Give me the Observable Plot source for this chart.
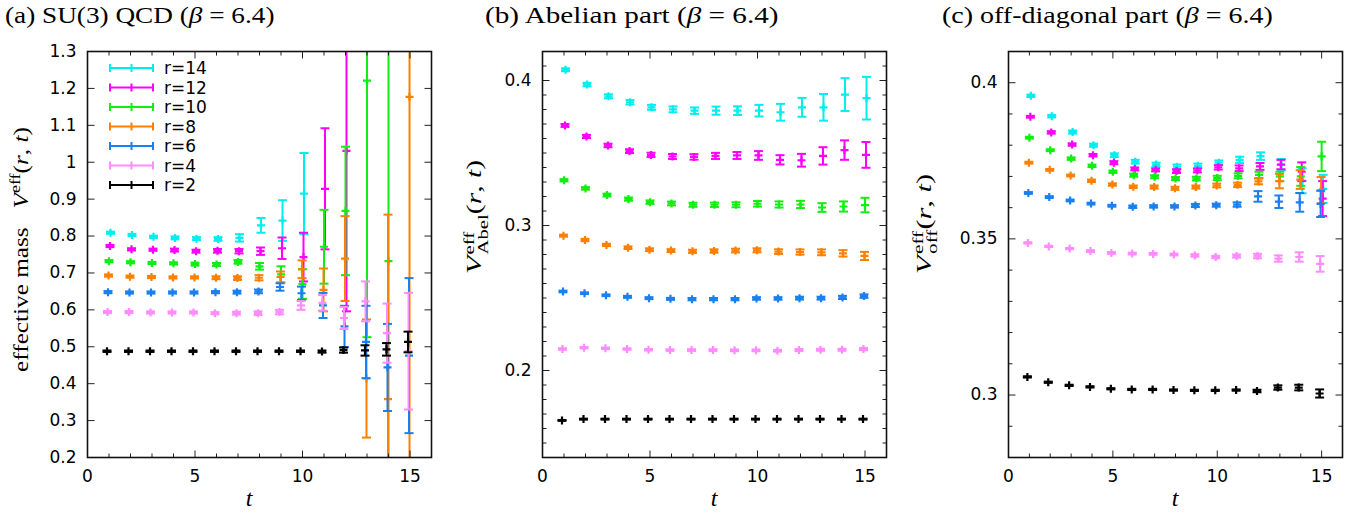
<!DOCTYPE html>
<html><head><meta charset="utf-8">
<script src="https://cdn.jsdelivr.net/npm/d3@7"></script>
<script src="https://cdn.jsdelivr.net/npm/@observablehq/plot@0.6"></script>
<style>
body{margin:0;background:#fff;}
#root{position:relative;width:1358px;height:514px;overflow:hidden;background:#fff;}
#root svg{position:absolute;top:0;overflow:visible;}
.title{position:absolute;font-family:"Liberation Serif",serif;font-size:23px;white-space:nowrap;color:#000;transform-origin:0 50%;line-height:1;}
.ylab{position:absolute;font-family:"Liberation Serif",serif;font-size:21px;white-space:nowrap;color:#000;line-height:1;}
.ylab.small{font-size:20px;}
.xlab{position:absolute;font-family:"Liberation Serif",serif;font-style:italic;font-size:24px;transform:translate(-50%,-50%);color:#000;}
.ss{display:inline-flex;flex-direction:column;vertical-align:middle;font-size:14px;line-height:1.0;margin-left:1px;}
.sup{position:relative;top:-8px;font-size:15px;}
</style></head><body><div id="root"></div><script>
// ---------- data ----------
const tValues = [1,2,3,4,5,6,7,8,9,10,11,12,13,14,15];
const radii = [14,12,10,8,6,4,2];
const seriesLabels = ["r=14","r=12","r=10","r=8","r=6","r=4","r=2"];

// (a) SU(3) QCD
const qcd_r14 = [0.809,0.803,0.798,0.795,0.793,0.792,0.795,0.829,0.842,0.915,null,null,null,null,null];
const qcd_r14_err = [0.003,0.003,0.003,0.004,0.004,0.005,0.010,0.020,0.055,0.110,null,null,null,null,null];
const qcd_r12 = [0.773,0.764,0.763,0.762,0.759,0.760,0.759,0.759,0.767,0.743,0.928,1.031,null,null,null];
const qcd_r12_err = [0.003,0.003,0.003,0.004,0.004,0.005,0.006,0.010,0.029,0.066,0.164,0.435,null,null,null];
const qcd_r10 = [0.732,0.729,0.727,0.726,0.724,0.723,0.730,0.718,0.696,0.670,0.771,0.868,1.221,0.732,null];
const qcd_r10_err = [0.003,0.003,0.003,0.003,0.004,0.004,0.005,0.009,0.022,0.040,0.100,0.174,0.695,0.900,null];
const qcd_r8 = [0.693,0.690,0.689,0.688,0.688,0.687,0.686,0.687,0.689,0.710,0.654,0.739,0.414,0.358,1.177];
const qcd_r8_err = [0.003,0.003,0.003,0.003,0.003,0.004,0.005,0.007,0.015,0.024,0.058,0.115,0.160,0.500,1.000];
const qcd_r6 = [0.648,0.647,0.647,0.647,0.647,0.648,0.648,0.650,0.662,0.645,0.612,0.555,0.513,0.444,0.476];
const qcd_r6_err = [0.003,0.003,0.003,0.003,0.003,0.003,0.004,0.005,0.010,0.018,0.034,0.056,0.098,0.118,0.210];
const qcd_r4 = [0.594,0.594,0.593,0.593,0.593,0.591,0.591,0.591,0.594,0.612,0.619,0.578,0.623,0.537,0.488];
const qcd_r4_err = [0.003,0.003,0.003,0.003,0.003,0.003,0.004,0.005,0.006,0.012,0.021,0.030,0.054,0.080,0.158];
const qcd_r2 = [0.488,0.488,0.488,0.488,0.488,0.488,0.488,0.488,0.488,0.488,0.487,0.491,0.490,0.493,0.513];
const qcd_r2_err = [0.002,0.002,0.002,0.002,0.002,0.002,0.002,0.002,0.002,0.002,0.003,0.007,0.014,0.017,0.028];

// (b) Abelian part
const abel_r14 = [0.4074,0.3972,0.3891,0.3850,0.3815,0.3801,0.3792,0.3792,0.3792,0.3792,0.3781,0.3815,0.3815,0.3903,0.3878];
const abel_r14_err = [0.0010,0.0012,0.0014,0.0015,0.0017,0.0020,0.0022,0.0028,0.0030,0.0040,0.0058,0.0065,0.0092,0.0113,0.0147];
const abel_r12 = [0.3690,0.3614,0.3552,0.3513,0.3487,0.3476,0.3473,0.3480,0.3483,0.3483,0.3453,0.3450,0.3480,0.3520,0.3487];
const abel_r12_err = [0.0010,0.0011,0.0012,0.0013,0.0015,0.0017,0.0019,0.0021,0.0024,0.0030,0.0032,0.0044,0.0060,0.0067,0.0089];
const abel_r10 = [0.3312,0.3256,0.3210,0.3182,0.3161,0.3152,0.3143,0.3143,0.3143,0.3150,0.3145,0.3145,0.3124,0.3131,0.3141];
const abel_r10_err = [0.0008,0.0009,0.0010,0.0011,0.0012,0.0013,0.0014,0.0015,0.0017,0.0019,0.0021,0.0025,0.0030,0.0035,0.0050];
const abel_r8 = [0.2930,0.2900,0.2866,0.2847,0.2833,0.2827,0.2822,0.2824,0.2827,0.2829,0.2820,0.2817,0.2815,0.2808,0.2790];
const abel_r8_err = [0.0007,0.0008,0.0008,0.0009,0.0010,0.0010,0.0011,0.0012,0.0013,0.0014,0.0016,0.0018,0.0020,0.0022,0.0028];
const abel_r6 = [0.2545,0.2533,0.2519,0.2508,0.2499,0.2494,0.2492,0.2492,0.2492,0.2497,0.2497,0.2499,0.2499,0.2504,0.2513];
const abel_r6_err = [0.0006,0.0006,0.0006,0.0007,0.0007,0.0007,0.0008,0.0008,0.0008,0.0009,0.0009,0.0010,0.0010,0.0011,0.0012];
const abel_r4 = [0.2148,0.2157,0.2153,0.2148,0.2143,0.2141,0.2141,0.2141,0.2139,0.2139,0.2136,0.2141,0.2143,0.2143,0.2148];
const abel_r4_err = [0.0005,0.0005,0.0005,0.0005,0.0005,0.0005,0.0006,0.0006,0.0006,0.0006,0.0006,0.0007,0.0007,0.0007,0.0008];
const abel_r2 = [0.1656,0.1665,0.1665,0.1665,0.1665,0.1665,0.1665,0.1665,0.1665,0.1665,0.1665,0.1665,0.1665,0.1665,0.1665];
const abel_r2_err = [0.0003,0.0003,0.0003,0.0003,0.0003,0.0003,0.0003,0.0003,0.0003,0.0003,0.0003,0.0003,0.0003,0.0003,0.0003];

// (c) off-diagonal part
const off_r14 = [0.3958,0.3893,0.3842,0.3800,0.3768,0.3747,0.3738,0.3731,0.3734,0.3744,0.3753,0.3765,0.3738,0.3686,0.3660];
const off_r14_err = [0.0004,0.0004,0.0005,0.0005,0.0006,0.0006,0.0006,0.0007,0.0007,0.0007,0.0010,0.0012,0.0018,0.0040,0.0045];
const off_r12 = [0.3891,0.3841,0.3802,0.3768,0.3744,0.3724,0.3721,0.3717,0.3719,0.3729,0.3726,0.3732,0.3738,0.3715,0.3629];
const off_r12_err = [0.0003,0.0004,0.0004,0.0004,0.0005,0.0005,0.0005,0.0006,0.0006,0.0007,0.0009,0.0011,0.0015,0.0030,0.0056];
const off_r10 = [0.3824,0.3784,0.3757,0.3734,0.3715,0.3704,0.3699,0.3693,0.3693,0.3695,0.3702,0.3705,0.3700,0.3700,0.3764];
const off_r10_err = [0.0003,0.0003,0.0004,0.0004,0.0004,0.0005,0.0005,0.0005,0.0006,0.0007,0.0008,0.0010,0.0015,0.0030,0.0047];
const off_r8 = [0.3744,0.3721,0.3703,0.3686,0.3674,0.3667,0.3666,0.3662,0.3666,0.3671,0.3673,0.3684,0.3685,0.3690,0.3656];
const off_r8_err = [0.0003,0.0003,0.0003,0.0004,0.0004,0.0004,0.0005,0.0005,0.0005,0.0006,0.0007,0.0009,0.0023,0.0030,0.0042];
const off_r6 = [0.3647,0.3634,0.3623,0.3613,0.3606,0.3603,0.3604,0.3604,0.3607,0.3608,0.3610,0.3636,0.3619,0.3617,0.3612];
const off_r6_err = [0.0003,0.0003,0.0003,0.0003,0.0003,0.0004,0.0004,0.0004,0.0005,0.0005,0.0007,0.0017,0.0020,0.0030,0.0042];
const off_r4 = [0.3487,0.3476,0.3469,0.3461,0.3455,0.3453,0.3452,0.3450,0.3447,0.3442,0.3445,0.3445,0.3437,0.3442,0.3420];
const off_r4_err = [0.0002,0.0002,0.0002,0.0003,0.0003,0.0003,0.0003,0.0003,0.0004,0.0004,0.0005,0.0007,0.0010,0.0015,0.0025];
const off_r2 = [0.3058,0.3041,0.3031,0.3026,0.3020,0.3018,0.3018,0.3016,0.3015,0.3015,0.3016,0.3013,0.3024,0.3024,0.3005];
const off_r2_err = [0.0002,0.0002,0.0002,0.0002,0.0002,0.0002,0.0002,0.0002,0.0002,0.0002,0.0002,0.0004,0.0007,0.0009,0.0013];

// axis ticks
const xTickLabels = [0,5,10,15];
const xMinorTicks = [1,2,3,4,6,7,8,9,11,12,13,14];
const qcdYTicks = [0.2,0.3,0.4,0.5,0.6,0.7,0.8,0.9,1,1.1,1.2,1.3];
const abelYTicks = [0.2,0.3,0.4];
const abelYMinor = [0.15,0.16,0.17,0.18,0.19,0.21,0.22,0.23,0.24,0.25,0.26,0.27,0.28,0.29,0.31,0.32,0.33,0.34,0.35,0.36,0.37,0.38,0.39,0.41];
const offYTicks = [0.3,0.35,0.4];
const offYMinor = [0.29,0.31,0.32,0.33,0.34,0.36,0.37,0.38,0.39];

// ---------- styles ----------
const colorOf = {14:"#00eeee",12:"#ff00ff",10:"#11ee11",8:"#ff8000",6:"#1a80f0",4:"#ff8cff",2:"#000000"};
const dxOf = {14:1.5,12:1,10:0,8:-0.5,6:-1,4:-1.5,2:-2};
const sansFont = "'DejaVu Sans', Verdana, sans-serif";

// custom symbols
const sym = (f) => ({draw(ctx, size){ f(ctx, Math.sqrt(size/Math.PI)); }});
const plusSym = sym((c,r)=>{c.moveTo(-r,0);c.lineTo(r,0);c.moveTo(0,-r);c.lineTo(0,r);});
const hbarSym = sym((c,r)=>{c.moveTo(-r,0);c.lineTo(r,0);});
const tickRight = sym((c,r)=>{c.moveTo(0,0);c.lineTo(r,0);});
const tickLeft = sym((c,r)=>{c.moveTo(0,0);c.lineTo(-r,0);});
const tickUp = sym((c,r)=>{c.moveTo(0,0);c.lineTo(0,-r);});
const tickDown = sym((c,r)=>{c.moveTo(0,0);c.lineTo(0,r);});

function rows(vals, errs, r) {
  return tValues.map((t,i)=> vals[i]==null ? null : {t, r, v: vals[i], lo: vals[i]-errs[i], hi: vals[i]+errs[i]}).filter(Boolean);
}

function panel(opts) {
  const {series, xDomain, yDomain, yTicks, yMinor, width, ml, mr, clip} = opts;
  const marks = [];
  for (const s of series) {
    const c = colorOf[s.r], dx = dxOf[s.r];
    marks.push(Plot.ruleX(s.rows, {x:"t", y1:"lo", y2:"hi", stroke:c, strokeWidth:2, dx, clip}));
    marks.push(Plot.dot(s.rows, {x:"t", y:"lo", symbol:hbarSym, r:4.5, stroke:c, fill:"none", strokeWidth:2, dx, clip}));
    marks.push(Plot.dot(s.rows, {x:"t", y:"hi", symbol:hbarSym, r:4.5, stroke:c, fill:"none", strokeWidth:2, dx, clip}));
    marks.push(Plot.dot(s.rows, {x:"t", y:"v", symbol:plusSym, r:4, stroke:c, fill:"none", strokeWidth:2.2, dx, clip}));
  }
  const [x0,x1] = xDomain, [y0,y1] = yDomain;
  const tk = (data, x, y, symbol, r) => Plot.dot(data, {x, y, symbol, r, stroke:"#222", fill:"none", strokeWidth:1});
  marks.push(tk(xTickLabels, d=>d, ()=>y0, tickUp, 7));
  marks.push(tk(xTickLabels, d=>d, ()=>y1, tickDown, 7));
  marks.push(tk(xMinorTicks, d=>d, ()=>y0, tickUp, 4));
  marks.push(tk(xMinorTicks, d=>d, ()=>y1, tickDown, 4));
  marks.push(tk(yTicks, ()=>x0, d=>d, tickRight, 7));
  marks.push(tk(yTicks, ()=>x1, d=>d, tickLeft, 7));
  if (yMinor) {
    marks.push(tk(yMinor, ()=>x0, d=>d, tickRight, 4));
    marks.push(tk(yMinor, ()=>x1, d=>d, tickLeft, 4));
  }
  marks.push(Plot.frame({stroke:"#111", strokeWidth:1.6}));
  marks.push(Plot.axisX(xTickLabels, {tickSize:0, tickPadding:12, fontSize:17, fontFamily:sansFont, tickFormat:d=>String(d), label:null}));
  marks.push(Plot.axisY(yTicks, {tickSize:0, tickPadding:11, fontSize:17, fontFamily:sansFont, tickFormat:d=>String(d), label:null}));
  return Plot.plot({
    width, height:514, marginLeft:ml, marginRight:mr, marginTop:51, marginBottom:57,
    x:{domain:xDomain, axis:null}, y:{domain:yDomain, axis:null},
    style:{fontFamily:sansFont, fontSize:"17px", color:"#000", background:"transparent"},
    marks
  });
}

const root = document.getElementById("root");
function mk(prefix) {
  const vals = {qcd:[qcd_r14,qcd_r12,qcd_r10,qcd_r8,qcd_r6,qcd_r4,qcd_r2], abel:[abel_r14,abel_r12,abel_r10,abel_r8,abel_r6,abel_r4,abel_r2], off:[off_r14,off_r12,off_r10,off_r8,off_r6,off_r4,off_r2]}[prefix];
  const errs = {qcd:[qcd_r14_err,qcd_r12_err,qcd_r10_err,qcd_r8_err,qcd_r6_err,qcd_r4_err,qcd_r2_err], abel:[abel_r14_err,abel_r12_err,abel_r10_err,abel_r8_err,abel_r6_err,abel_r4_err,abel_r2_err], off:[off_r14_err,off_r12_err,off_r10_err,off_r8_err,off_r6_err,off_r4_err,off_r2_err]}[prefix];
  return radii.map((r,i)=>({r, rows: rows(vals[i], errs[i], r)}));
}

const pa = panel({series: mk("qcd"), xDomain:[0,16], yDomain:[0.2,1.3], yTicks:qcdYTicks, width:445, ml:87, mr:14, clip:true});
pa.style.left = "0px"; root.appendChild(pa);
const pb = panel({series: mk("abel"), xDomain:[0,16], yDomain:[0.14,0.42], yTicks:abelYTicks, yMinor:abelYMinor, width:450, ml:92, mr:14, clip:true});
pb.style.left = "450px"; root.appendChild(pb);
const pc = panel({series: mk("off"), xDomain:[0,16], yDomain:[0.28,0.41], yTicks:offYTicks, yMinor:offYMinor, width:458, ml:108, mr:16, clip:true});
pc.style.left = "900px"; root.appendChild(pc);

// legend (panel a)
const lg = d3.select(root).append("svg").attr("width",445).attr("height",514).style("left","0px").style("pointer-events","none");
seriesLabels.forEach((lab,i)=>{
  const y = 68 + i*19.5, c = colorOf[radii[i]];
  const g = lg.append("g").attr("stroke",c).attr("stroke-width",2);
  g.append("line").attr("x1",110).attr("x2",153).attr("y1",y).attr("y2",y);
  [110,131.5,153].forEach(x=> g.append("line").attr("x1",x).attr("x2",x).attr("y1",y-4).attr("y2",y+4));
  lg.append("text").attr("x",164).attr("y",y).attr("dy","0.36em").attr("font-family",sansFont).attr("font-size",17).text(lab);
});

// titles and axis labels
function html(cls, left, top, h) { const d = document.createElement("div"); d.className = cls; d.style.left = left+"px"; d.style.top = top+"px"; d.innerHTML = h; root.appendChild(d); return d; }
function title(left, right, h) {
  const d = html("title", left, 4, h);
  const s = (right-left)/d.offsetWidth;
  d.style.transform = `scaleX(${s})`;
}
title(5, 275, "(a) SU(3) QCD (<i>β</i> = 6.4)");
title(485, 778, "(b) Abelian part (<i>β</i> = 6.4)");
title(942, 1273, "(c) off-diagonal part (<i>β</i> = 6.4)");
function ylab(cls, cx, cy, len, h) {
  const d = html(cls, 0, 0, h);
  const w = d.offsetWidth, hh = d.offsetHeight;
  d.style.left = (cx - w/2) + "px"; d.style.top = (cy - hh/2) + "px";
  d.style.transform = `rotate(-90deg) scaleX(${len/w})`;
}
ylab("ylab", 22, 249, 245, "effective mass&nbsp;&nbsp;&nbsp;<i>V</i><span class='sup'>eff</span>(<i>r</i>, <i>t</i>)");
ylab("ylab small", 476, 217, 114, "<i>V</i><span class='ss'><span>eff</span><span>Abel</span></span>(<i>r</i>, <i>t</i>)");
ylab("ylab small", 926, 224, 100, "<i>V</i><span class='ss'><span>eff</span><span>off</span></span>(<i>r</i>, <i>t</i>)");
html("xlab", 249, 498, "t");
html("xlab", 714, 498, "t");
html("xlab", 1175, 498, "t");
</script></body></html>
